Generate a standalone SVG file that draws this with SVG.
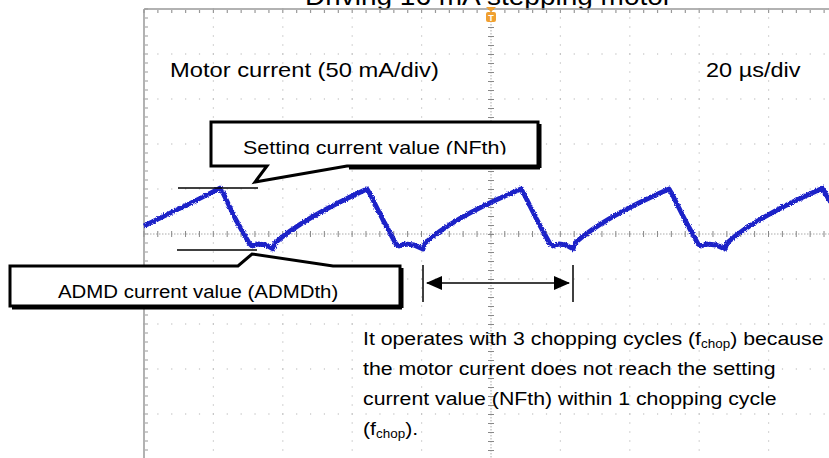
<svg xmlns="http://www.w3.org/2000/svg" width="829" height="458" viewBox="0 0 829 458">
<style>
.t{font-family:"Liberation Sans",Arial,sans-serif;fill:#000}
.dv{stroke:#b4b4b4;stroke-width:1.2;stroke-dasharray:1.2 7.8;fill:none}
.dh{stroke:#b4b4b4;stroke-width:1.2;stroke-dasharray:1.2 12.68;fill:none}
.box{fill:#fff;stroke:#000;stroke-width:3;stroke-linejoin:miter}
.shadow{fill:none;stroke:#000;stroke-width:3}
.ln{stroke:#000;stroke-width:1.5;fill:none}
</style>
<defs>
<marker id="ah" viewBox="0 0 16 14" refX="15" refY="7" markerWidth="16" markerHeight="14" markerUnits="userSpaceOnUse" orient="auto-start-reverse">
<path d="M0,0 L16,7 L0,14 Z" fill="#000"/>
</marker>
<filter id="fuzz" x="-5%" y="-20%" width="110%" height="140%">
<feTurbulence type="fractalNoise" baseFrequency="0.9" numOctaves="2" seed="3"/>
<feDisplacementMap in="SourceGraphic" scale="3.2" xChannelSelector="R" yChannelSelector="G"/>
</filter>
<clipPath id="clipSet"><rect x="200" y="120" width="340" height="34.5"/></clipPath>
</defs>
<rect width="829" height="458" fill="#fff"/>

<g id="title">
<text class="t" font-size="25" transform="translate(305,5) scale(1.12,1)">Driving 16 mA stepping motor</text>
</g>

<g id="grid">
<line class="dv" x1="213.4" y1="8.4" x2="213.4" y2="458"/>
<line class="dv" x1="282.8" y1="8.4" x2="282.8" y2="458"/>
<line class="dv" x1="352.2" y1="8.4" x2="352.2" y2="458"/>
<line class="dv" x1="421.6" y1="8.4" x2="421.6" y2="458"/>
<line class="dv" x1="560.4" y1="8.4" x2="560.4" y2="458"/>
<line class="dv" x1="629.8" y1="8.4" x2="629.8" y2="458"/>
<line class="dv" x1="699.2" y1="8.4" x2="699.2" y2="458"/>
<line class="dv" x1="768.6" y1="8.4" x2="768.6" y2="458"/>
<line class="dh" x1="143.4" y1="54" x2="829" y2="54"/>
<line class="dh" x1="143.4" y1="99" x2="829" y2="99"/>
<line class="dh" x1="143.4" y1="144" x2="829" y2="144"/>
<line class="dh" x1="143.4" y1="189" x2="829" y2="189"/>
<line class="dh" x1="143.4" y1="279" x2="829" y2="279"/>
<line class="dh" x1="143.4" y1="324" x2="829" y2="324"/>
<line class="dh" x1="143.4" y1="369" x2="829" y2="369"/>
<line class="dh" x1="143.4" y1="414" x2="829" y2="414"/>
<line x1="491" y1="9" x2="491" y2="458" stroke="#aaa" stroke-width="1" stroke-dasharray="1.5 1.5"/>
<line x1="144" y1="234" x2="829" y2="234" stroke="#aaa" stroke-width="1" stroke-dasharray="1.5 1.5"/>
<line x1="491" y1="9" x2="491" y2="458" stroke="#888" stroke-width="6" stroke-dasharray="1 8"/>
<line x1="143.4" y1="234" x2="829" y2="234" stroke="#888" stroke-width="6" stroke-dasharray="1 12.88"/>
<line x1="144" y1="9" x2="144" y2="458" stroke="#999" stroke-width="1.5"/>
<line x1="144" y1="9" x2="829" y2="9" stroke="#999" stroke-width="1.5"/>
<line x1="146.5" y1="8.4" x2="146.5" y2="458" stroke="#999" stroke-width="3" stroke-dasharray="1.2 7.8"/>
<line x1="143.4" y1="11.5" x2="829" y2="11.5" stroke="#999" stroke-width="3" stroke-dasharray="1.2 12.68"/>
</g>

<g id="trigger">
<path d="M486,7 L496,7 L491,12 Z" fill="#f0a030"/>
<rect x="486" y="12" width="10" height="10" rx="2" fill="#f0a030"/>
<text class="t" x="491" y="20.5" font-size="9" font-weight="bold" text-anchor="middle" style="fill:#fff">T</text>
</g>

<g id="labels">
<text class="t" font-size="21" transform="translate(170,77) scale(1.13,1)">Motor current (50 mA/div)</text>
<text class="t" font-size="21" transform="translate(706,77) scale(1.12,1)">20 µs/div</text>
</g>

<g id="waveform">
<path filter="url(#fuzz)" fill="none" stroke="#1f23c8" stroke-width="4.8" stroke-linejoin="round" d="M144,226 C170,213 198,200 220,188 L223,193 L236,220 L249,243 L252,246 L258,244 L266,245 L273,249 L275,243 C295,225 330,206 367,189 L370,194 L383,220 L396,244 L399,246 L405,244 L414,245 L423,249 L425,243 C445,225 480,206 521,189 L524,194 L537,220 L550,244 L553,246 L559,244 L566,245 L573,249 L575,243 C595,225 630,206 669,189 L672,194 L685,220 L698,244 L701,246 L707,244 L716,245 L725,249 L727,243 C747,225 782,206 823,188 L826,195 L832,204"/>
</g>

<g id="connectors">
<line class="ln" x1="178" y1="188" x2="258" y2="188"/>
<line class="ln" x1="177" y1="250" x2="257" y2="250"/>
<line class="ln" x1="423" y1="265" x2="423" y2="302"/>
<line class="ln" x1="573" y1="265" x2="573" y2="302"/>
<line class="ln" x1="427" y1="283" x2="569" y2="283" marker-start="url(#ah)" marker-end="url(#ah)"/>
</g>

<g id="callout-nfth">
<path class="shadow" d="M540,124 V168 M349,168 H540"/>
<path class="box" d="M211,122 H538 V166 H347 L255,182 L267,166 H211 Z"/>
<g clip-path="url(#clipSet)">
<text class="t" font-size="19" transform="translate(243,154) scale(1.13,1)">Setting current value (NFth)</text>
</g>
</g>

<g id="callout-admdth">
<path class="shadow" d="M402,268 V308 M12,308 H402"/>
<path class="box" d="M10,266 H238 L252,254 L333,266 H400 V306 H10 Z"/>
<text class="t" font-size="19" transform="translate(58,298) scale(1.075,1)">ADMD current value (ADMDth)</text>
</g>

<g id="note">
<text class="t" font-size="19" transform="translate(363,345) scale(1.12,1)">It operates with 3 chopping cycles (f<tspan font-size="12" dy="3">chop</tspan><tspan dy="-3">) because</tspan></text>
<text class="t" font-size="19" transform="translate(363,375) scale(1.12,1)">the motor current does not reach the setting</text>
<text class="t" font-size="19" transform="translate(363,405) scale(1.12,1)">current value (NFth) within 1 chopping cycle</text>
<text class="t" font-size="19" transform="translate(363,435) scale(1.12,1)">(f<tspan font-size="12" dy="3">chop</tspan><tspan dy="-3">).</tspan></text>
</g>
</svg>
